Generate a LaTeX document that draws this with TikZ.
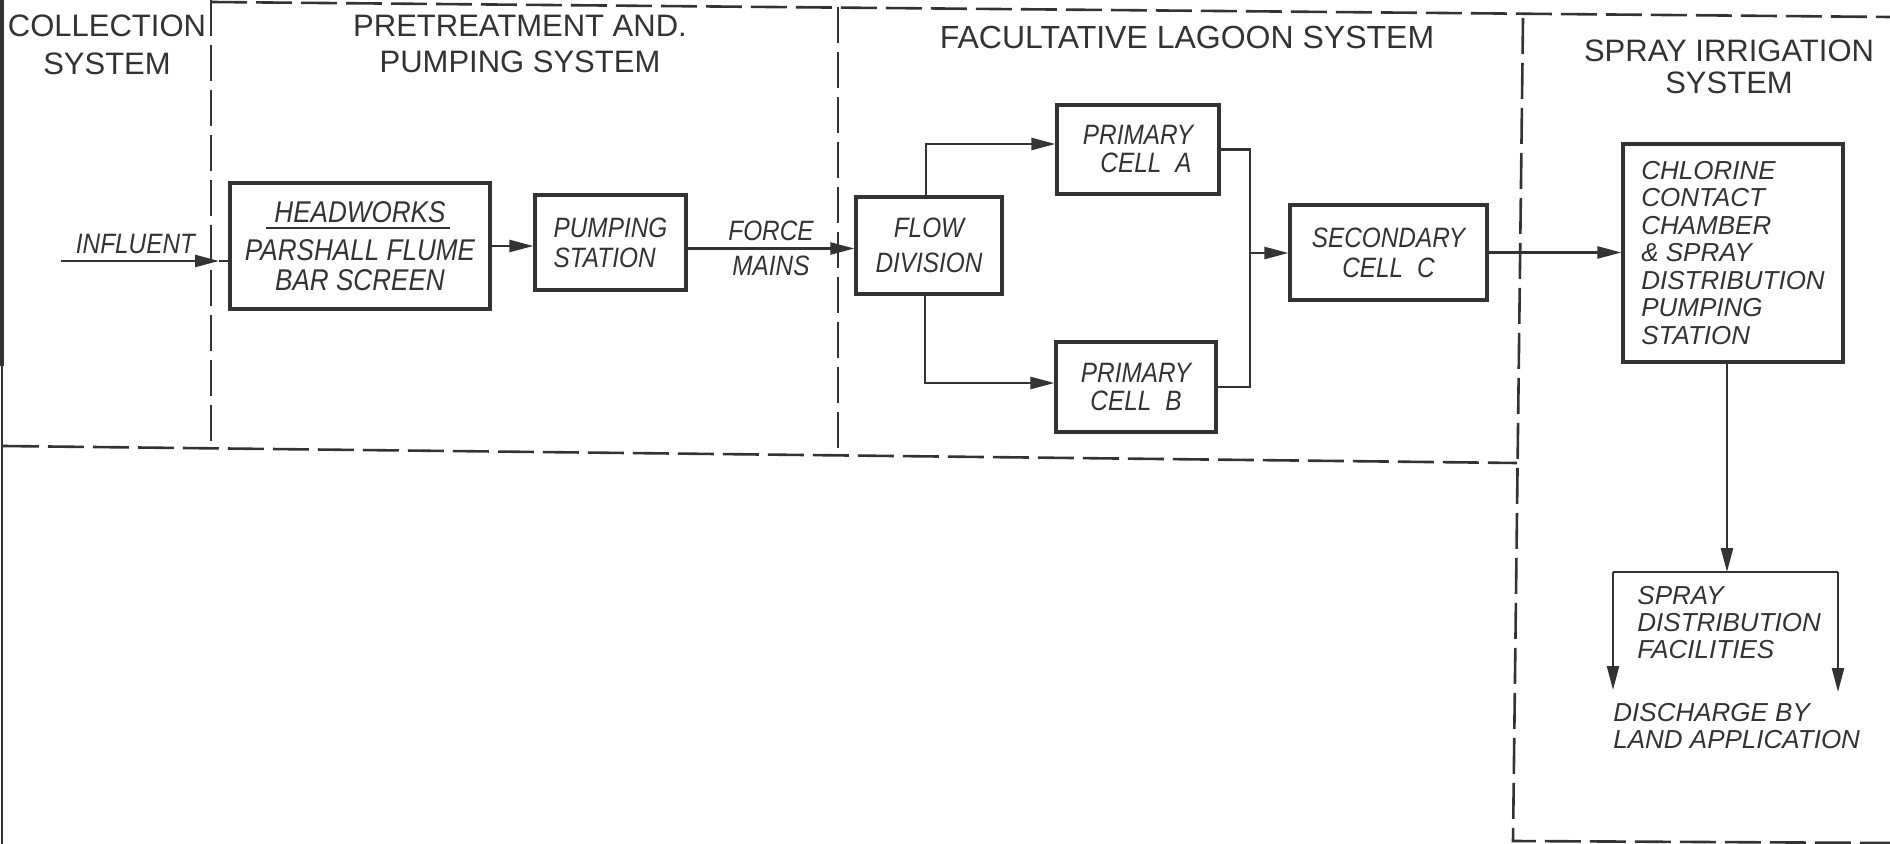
\documentclass[tikz,border=0pt]{standalone}
\usepackage{fontspec}
\setmainfont{Liberation Sans}
\newfontfamily\boxfont{Liberation Sans}[FakeStretch=0.87]
\usetikzlibrary{arrows.meta}
\definecolor{ink}{HTML}{333333}
\newcommand{\hwul}[1]{\leavevmode\setbox0=\hbox{#1}\rlap{\hskip-4pt\rule[-3.5pt]{\dimexpr\wd0+6pt\relax}{1.1pt}}\box0}
\begin{document}
\begin{tikzpicture}[x=0.5pt,y=-0.5pt,
  title/.style={font=\fontsize{15.5}{19}\selectfont, text=ink, align=center, inner sep=0pt},
  box/.style={draw=ink, line width=1.6pt, inner sep=0pt, align=center, text=ink,
    font=\boxfont\itshape\fontsize{14}{15}\selectfont},
  lab/.style={text=ink, inner sep=0pt, align=center, font=\boxfont\itshape\fontsize{14}{17.5}\selectfont},
  spraytxt/.style={text=ink, inner sep=0pt, align=left, font=\itshape\fontsize{13}{13.5}\selectfont},
  conn/.style={draw=ink, line width=1.2pt},
  arr/.style={conn, -{Triangle[length=12pt,width=6pt]}},
  bound/.style={draw=ink, line width=1.3pt, dash pattern=on 18pt off 4.5pt}]
\fill[white] (0,0) rectangle (1890,844);
\useasboundingbox (0,0) rectangle (1890,844);

% boundaries
\draw[ink, line width=2pt] (2,0) -- (2,366);
\draw[ink, line width=0.8pt] (2,366) -- (2,844);
\draw[bound] (211,2) -- (1890,17);
\draw[bound] (211,0) -- (211,447);
\draw[bound] (3,446) -- (1517,463);
\draw[bound] (838,7) -- (838,455);
\draw[bound] (1523,18) -- (1513,841) -- (1890,843);

% titles
\node[title] (tcol) at (107,45) {COLLECTION\\SYSTEM};
\node[title, font=\fontsize{15.5}{18}\selectfont] (tpre) at (520,44) {PRETREATMENT AND.\\PUMPING SYSTEM};
\node[title, font=\fontsize{16}{18}\selectfont] (tlag) at (1187,37.5) {FACULTATIVE LAGOON SYSTEM};
\node[title, font=\fontsize{15.5}{16}\selectfont] (tspr) at (1729,67) {SPRAY IRRIGATION\\SYSTEM};

% boxes
\node[box, minimum width=130pt, minimum height=63pt, font=\boxfont\itshape\fontsize{15}{15}\selectfont] (hw) at (360,246)
  {\hwul{HEADWORKS}\\[4pt]PARSHALL FLUME\\BAR SCREEN};
\node[box, align=left, minimum width=75.5pt, minimum height=47.5pt] (ps) at (610.5,242.5) {PUMPING\\STATION};
\node[box, minimum width=73pt, minimum height=48.5pt] (fd) at (929,245.5) {FLOW\\[2.5pt]DIVISION};
\node[box, minimum width=81pt, minimum height=44.5pt, font=\boxfont\itshape\fontsize{14}{14}\selectfont] (ca) at (1138,149.5) {PRIMARY\\\hspace*{8pt}CELL\enspace A};
\node[box, minimum width=80pt, minimum height=45pt, font=\boxfont\itshape\fontsize{14}{14}\selectfont] (cb) at (1136,387) {PRIMARY\\CELL\enspace B};
\node[box, minimum width=98.5pt, minimum height=47.5pt] (cc) at (1388.5,252.5) {SECONDARY\\CELL\enspace C};
\node[box, align=left, minimum width=110pt, minimum height=109pt, font=\itshape\fontsize{13}{13.75}\selectfont] (cl) at (1733,253)
  {CHLORINE\\CONTACT\\CHAMBER\\\& SPRAY\\DISTRIBUTION\\PUMPING\\STATION};

% labels
\node[lab] (tinf) at (135.5,244) {INFLUENT};
\node[lab] (tfm) at (771,248.5) {FORCE\\MAINS};
\node[spraytxt, anchor=west] (tsdf) at (1637,623) {SPRAY\\DISTRIBUTION\\FACILITIES};
\node[spraytxt, anchor=west] (tdis) at (1613,726.5) {DISCHARGE BY\\LAND APPLICATION};

% connectors
\coordinate (inf) at (61,261);
\coordinate (infa) at (219,261);
\draw[arr] (inf) -- (infa);
\draw[conn] (infa) -- (infa -| hw.west);
\draw[arr] (hw.east) -- (hw.east -| ps.west);
\coordinate (psx) at ([yshift=-3pt]ps.east);
\draw[arr] (psx) -- (psx -| fd.west);
\coordinate (fdt) at ([xshift=-1.5pt]fd.north);
\draw[arr] (fdt) |- ([yshift=2.75pt]ca.west);
\coordinate (fdb) at ([xshift=-2pt]fd.south);
\draw[arr] (fdb) |- ([yshift=2pt]cb.west);
\coordinate (mg) at (1250,253);
\draw[conn] (ca.east) -| (mg) |- (cb.east);
\draw[arr] (mg) -- (mg -| cc.west);
\draw[arr] (cc.east) -- (cc.east -| cl.west);
\coordinate (sdm) at (1727,572);
\draw[arr] (cl.south -| sdm) -- (sdm);
\coordinate (sdl) at (1613,572);
\coordinate (sdr) at (1838,572);
\draw[conn] (sdl) -- (sdr);
\coordinate (dl) at (1613,690);
\coordinate (dr) at (1838,692);
\draw[arr] (sdl) -- (dl);
\draw[arr] (sdr) -- (dr);
\end{tikzpicture}
\end{document}
